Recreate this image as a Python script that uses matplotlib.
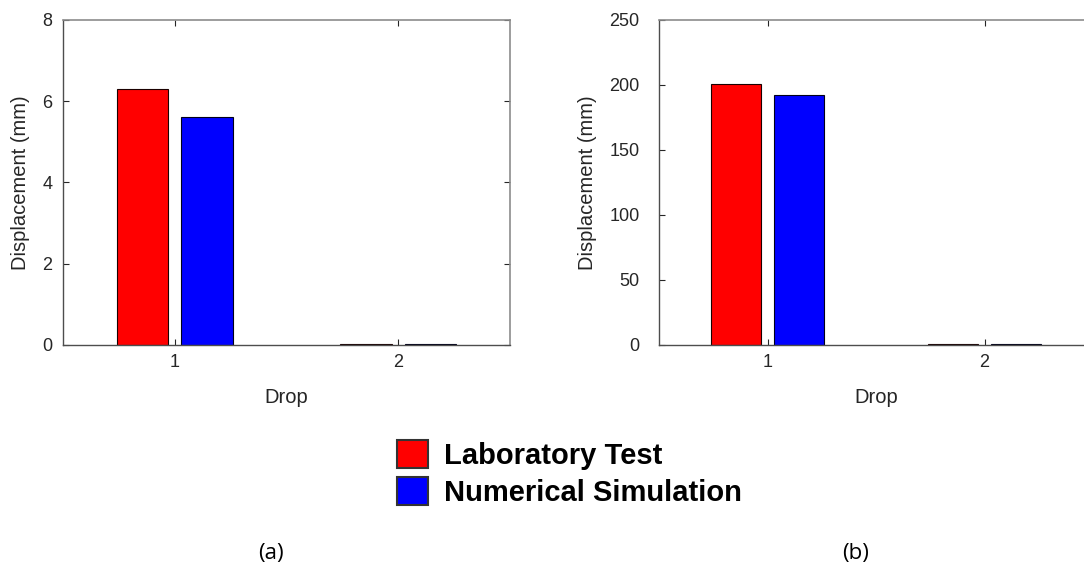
import matplotlib
matplotlib.use("Agg")
import matplotlib.pyplot as plt
from matplotlib.patches import Patch
import numpy as np

# ---- data ----
drops = [1, 2]
tick_labels = ["1", "2"]
series_names = ["Laboratory Test", "Numerical Simulation"]
lab_a = [6.30, 0.02]
sim_a = [5.60, 0.02]
lab_b = [201.0, 0.6]
sim_b = [192.0, 0.6]
ylim_a = (0, 8)
yticks_a = [0, 2, 4, 6, 8]
ylim_b = (0, 250)
yticks_b = [0, 50, 100, 150, 200, 250]
colors = ["#ff0000", "#0000ff"]

W, H = 1084, 572
fig = plt.figure(figsize=(W / 100, H / 100), dpi=100)
plt.rcParams["font.family"] = ["Liberation Sans", "DejaVu Sans"]

txt = "#262626"
fs_tick = 13
fs_lab = 14.5

def setup(ax, lab, sim, ylim, yticks, ypad):
    x = np.array(drops, dtype=float)
    bw, off = 0.23, 0.144
    ax.bar(x - off, lab, width=bw, color=colors[0], edgecolor="#1a0000", linewidth=0.8, zorder=2)
    ax.bar(x + off, sim, width=bw, color=colors[1], edgecolor="#00001a", linewidth=0.8, zorder=2)
    ax.set_xlim(0.5, 2.5)
    ax.set_ylim(*ylim)
    ax.set_xticks(drops)
    ax.set_xticklabels(tick_labels)
    ax.set_yticks(yticks)
    ax.tick_params(direction="in", top=True, right=True, length=4, width=0.8,
                   colors=txt, labelsize=fs_tick, labelcolor=txt)
    ax.tick_params(axis="y", pad=ypad)
    ax.tick_params(axis="x", pad=7)
    for s in ["left", "bottom"]:
        ax.spines[s].set_color("#4d4d4d")
        ax.spines[s].set_linewidth(1.0)
    for s in ["top", "right"]:
        ax.spines[s].set_color("#8c8c8c")
        ax.spines[s].set_linewidth(1.2)
    ax.set_xlabel("Drop", fontsize=fs_lab, color=txt, labelpad=12)
    ax.set_ylabel("Displacement (mm)", fontsize=fs_lab, color=txt, labelpad=9)

ax1 = fig.add_axes([63.3 / W, 1 - 344.7 / H, (510 - 63.3) / W, (344.7 - 20) / H])
setup(ax1, lab_a, sim_a, ylim_a, yticks_a, 8)
ax2 = fig.add_axes([659 / W, 1 - 344.7 / H, (1093 - 659) / W, (344.7 - 20) / H])
setup(ax2, lab_b, sim_b, ylim_b, yticks_b, 14)

handles = [Patch(facecolor=c, edgecolor="#333333", linewidth=1.5) for c in colors]
fig.legend(handles, series_names, loc="upper left", bbox_to_anchor=(397 / W, 1 - 440 / H),
           frameon=False, prop={"weight": "bold", "size": 21},
           handlelength=1.05, handleheight=1.1, handletextpad=0.55,
           labelspacing=0.25, borderpad=0, borderaxespad=0)

fig.text(271 / W, 1 - 553 / H, "(a)", ha="center", va="center", fontsize=16,
         family=["Open Sans", "DejaVu Sans"], color="black")
fig.text(856 / W, 1 - 553 / H, "(b)", ha="center", va="center", fontsize=16,
         family=["Open Sans", "DejaVu Sans"], color="black")

fig.savefig("out.png", dpi=100)
